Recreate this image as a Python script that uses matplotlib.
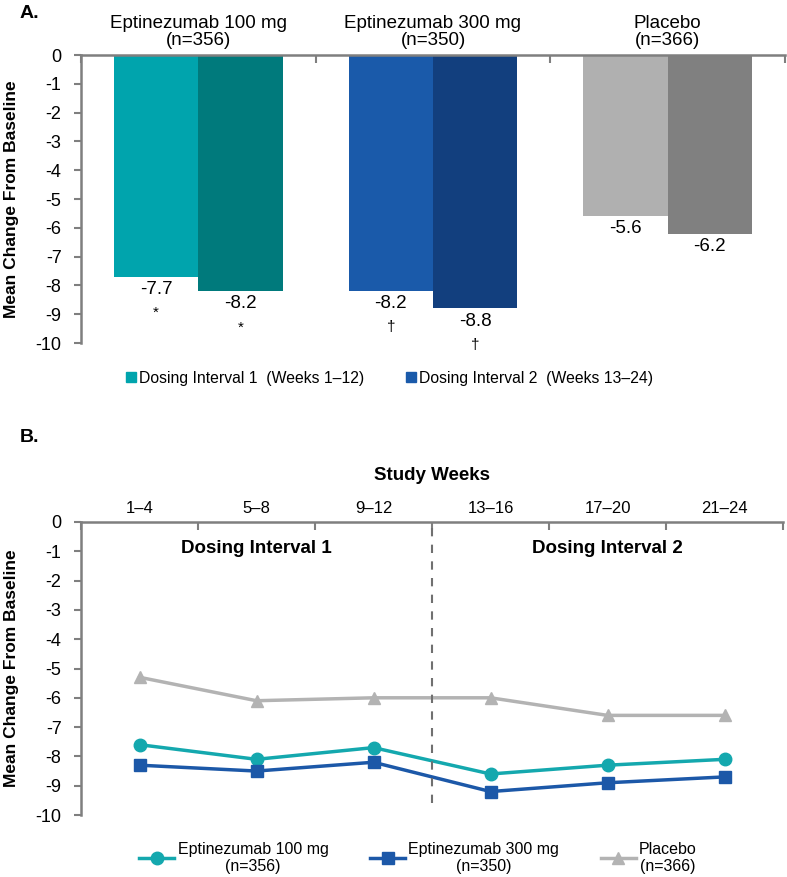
import matplotlib.pyplot as plt
from matplotlib.lines import Line2D

plt.rcParams['font.family'] = ['Liberation Sans', 'DejaVu Sans']
plt.rcParams['axes.unicode_minus'] = False

# panel A data
groups = ['Eptinezumab 100 mg\n(n=356)', 'Eptinezumab 300 mg\n(n=350)', 'Placebo\n(n=366)']
interval1 = [-7.7, -8.2, -5.6]
interval2 = [-8.2, -8.8, -6.2]
sig1 = ['*', '\u2020', '']
sig2 = ['*', '\u2020', '']
colors1 = ['#00A4AD', '#1A5AAA', '#B0B0B0']
colors2 = ['#007A7C', '#123F7E', '#808080']
legend_a = ['Dosing Interval 1  (Weeks 1\u201312)', 'Dosing Interval 2  (Weeks 13\u201324)']

# panel B data
weeks = ['1\u20134', '5\u20138', '9\u201312', '13\u201316', '17\u201320', '21\u201324']
epti100 = [-7.6, -8.1, -7.7, -8.6, -8.3, -8.1]
epti300 = [-8.3, -8.5, -8.2, -9.2, -8.9, -8.7]
placebo = [-5.3, -6.1, -6.0, -6.0, -6.6, -6.6]
line_labels = ['Eptinezumab 100 mg\n(n=356)', 'Eptinezumab 300 mg\n(n=350)', 'Placebo\n(n=366)']

spine_col = '#7F7F7F'
fig = plt.figure(figsize=(7.87, 8.77), dpi=100)


def style_axis(ax, n):
    for s in ['right', 'bottom']:
        ax.spines[s].set_visible(False)
    for s in ['left', 'top']:
        ax.spines[s].set_color(spine_col)
        ax.spines[s].set_linewidth(1.8)
    ax.set_xlim(-0.5, n - 0.5)
    ax.set_ylim(-10, 0)
    ax.set_yticks(range(0, -11, -1))
    ax.set_yticklabels([str(v) for v in range(0, -11, -1)])
    ax.xaxis.tick_top()
    ax.set_xticks([i + 0.5 for i in range(-1, n)], minor=True)
    ax.tick_params(axis='x', which='minor', top=True, length=6, width=1.5, color=spine_col, direction='in')
    ax.tick_params(axis='x', which='major', length=0, pad=4)
    ax.tick_params(axis='y', length=5, width=1.5, color=spine_col, labelsize=13, pad=9)
    ax.set_ylabel('Mean Change From Baseline', fontsize=12.5, fontweight='bold', labelpad=12)


# ---------- Panel A ----------
axA = fig.add_axes([81 / 787, 1 - 343 / 877, 704 / 787, 288 / 877])
style_axis(axA, 3)
x = list(range(3))
w = 0.36
axA.bar([i - w / 2 for i in x], interval1, width=w, color=colors1)
axA.bar([i + w / 2 for i in x], interval2, width=w, color=colors2)
axA.set_xticks(x)
axA.set_xticklabels(groups, fontsize=13.5, linespacing=1.05)
for i in x:
    for xv, val, sg in [(i - w / 2, interval1[i], sig1[i]), (i + w / 2, interval2[i], sig2[i])]:
        axA.annotate(f'{val}', (xv, val), xytext=(0, -3), textcoords='offset points',
                     ha='center', va='top', fontsize=13.5)
        if sg:
            axA.annotate(sg, (xv, val), xytext=(0, -21), textcoords='offset points',
                         ha='center', va='top', fontsize=11)

handles_a = [Line2D([], [], marker='s', linestyle='none', color=colors1[0], markersize=7),
             Line2D([], [], marker='s', linestyle='none', color=colors1[1], markersize=7)]
fig.legend(handles_a, legend_a, loc='center', bbox_to_anchor=(388 / 787, 1 - 378 / 877), ncol=2,
           frameon=False, fontsize=11.3, handletextpad=0.0, columnspacing=2.5, handlelength=1.0)
fig.text(20 / 787, 1 - 13 / 877, 'A.', fontsize=14, fontweight='bold', va='center', ha='left')

# ---------- Panel B ----------
axB = fig.add_axes([81 / 787, 1 - 815 / 877, 702 / 787, 293 / 877])
style_axis(axB, 6)
xb = list(range(len(weeks)))
axB.plot(xb, placebo, color='#B3B3B3', linewidth=2.5, marker='^', markersize=9, label=line_labels[2])
axB.plot(xb, epti100, color='#14A8AE', linewidth=2.5, marker='o', markersize=9, label=line_labels[0])
axB.plot(xb, epti300, color='#1C58A8', linewidth=2.5, marker='s', markersize=8, label=line_labels[1])
axB.set_xticks(xb)
axB.set_xticklabels(weeks, fontsize=12)
axB.axvline(2.5, ymin=0.04, ymax=1, color='#707070', linestyle=(0, (4, 4)), linewidth=1.5)
axB.text(1.0, -0.9, 'Dosing Interval 1', ha='center', va='center', fontsize=13.5, fontweight='bold')
axB.text(4.0, -0.9, 'Dosing Interval 2', ha='center', va='center', fontsize=13.5, fontweight='bold')
axB.set_title('Study Weeks', fontsize=13.5, fontweight='bold', pad=30)

h, l = axB.get_legend_handles_labels()
order = [1, 2, 0]
legB = fig.legend([h[i] for i in order], [l[i] for i in order], loc='center',
                  bbox_to_anchor=(418 / 787, 1 - 858 / 877), ncol=3, frameon=False, fontsize=11.5,
                  handlelength=2.2, handletextpad=0.2, columnspacing=2.6)
for t in legB.get_texts():
    t.set_multialignment('center')
fig.text(20 / 787, 1 - 437 / 877, 'B.', fontsize=14, fontweight='bold', va='center', ha='left')

fig.savefig('out.png', dpi=100)
